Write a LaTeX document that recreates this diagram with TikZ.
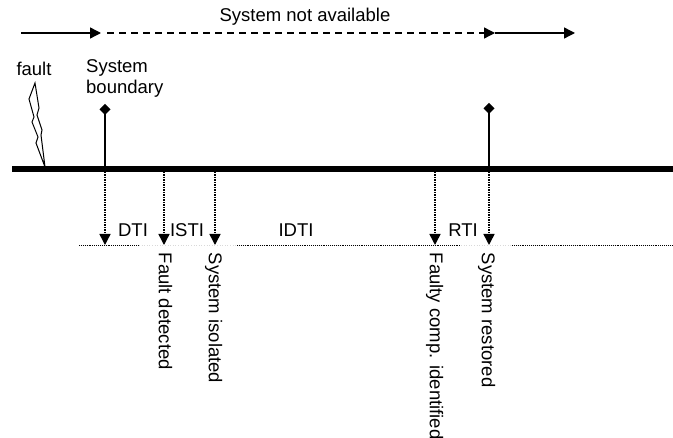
\documentclass[tikz,border=0pt]{standalone}
\usepackage{fontspec}
\setmainfont{Liberation Sans}
\usetikzlibrary{arrows.meta, positioning}

\begin{document}
\begin{tikzpicture}[
  x=1pt, y=-1pt,
  label/.style={inner sep=0pt, font=\fontsize{18.5}{21}\selectfont},
  vlabel/.style={label, rotate=-90, anchor=north west},
  timeline/.style={-{Triangle[length=11pt, width=11pt]}, line width=1.4pt},
  probe/.style={-{Triangle[length=11pt, width=11pt]}, line width=1.5pt, densely dotted},
  stem/.style={-{Diamond[length=11pt, width=11pt]}, line width=1.4pt},
  interval/.style={line width=0.9pt, densely dotted},
  gap/.style={line width=0.6pt, dotted, black!15}
]
\useasboundingbox (0,0) rectangle (673,438);

% top line
\coordinate (start) at (21,33);
\coordinate (down) at (101,33);
\coordinate (dashL) at (107,33);
\coordinate (up) at (495,33);
\coordinate (stop) at (575,33);
\draw[timeline] (start) -- (down);
\draw[timeline, dash pattern=on 7pt off 5pt] (dashL) -- (up);
\draw[timeline] (up) -- (stop);
\node[label] (notavail) at (305,17) {System not available};

% main axis
\coordinate (axisL) at (12,169);
\coordinate (axisR) at (673,169);
\draw[line width=6pt] (axisL) -- (axisR);

% fault
\node[label] (fault) at (34,69) {fault};
\coordinate (flash) at (45,167);
\draw[line width=1pt] (35,83) -- (29,99) -- (34,117) -- (32,122) -- (38,137) -- (36,143) -- (flash)
  -- (41,135) -- (42,130) -- (37,115) -- (39,108) -- cycle;

% boundary
\node[label, align=left, anchor=north west] (boundary) at (86,59) {System\\boundary};
\coordinate (leftT) at (105,169);
\coordinate (leftD) at (105,104);
\coordinate (rightT) at (489,169);
\coordinate (rightD) at (489,103);
\draw[stem] (leftT) -- (leftD);
\draw[stem] (rightT) -- (rightD);

% interval line
\coordinate (i0) at (79,245);
\coordinate (i1) at (139,245);
\coordinate (i2) at (237,245);
\coordinate (i3) at (461,245);
\coordinate (i4) at (512,245);
\coordinate (i5) at (672,245);
\draw[interval] (i0) -- (i1);
\draw[gap] (i1) -- (i2);
\draw[interval] (i2) -- (i3);
\draw[gap] (i3) -- (i4);
\draw[interval] (i4) -- (i5);

% events
\foreach \name/\xpos in {dti/105, det/164, iso/215, idn/435, res/489} {
  \coordinate (\name T) at (\xpos,172);
  \coordinate (\name B) at (\xpos,245);
  \draw[probe] (\name T) -- (\name B);
}

% interval names
\node[label] (dtilabel) at (133,230) {DTI};
\node[label] (istilabel) at (187,230) {ISTI};
\node[label] (idtilabel) at (296,230) {IDTI};
\node[label] (rtilabel) at (463,230) {RTI};

% event names
\node[vlabel] (detected) at (172.5,252.5) {Fault detected};
\node[vlabel] (isolated) at (222.5,252.5) {System isolated};
\node[vlabel] (identified) at (443.5,252.5) {Faulty comp. identified};
\node[vlabel] (restored) at (495.5,252.5) {System restored};
\end{tikzpicture}
\end{document}
